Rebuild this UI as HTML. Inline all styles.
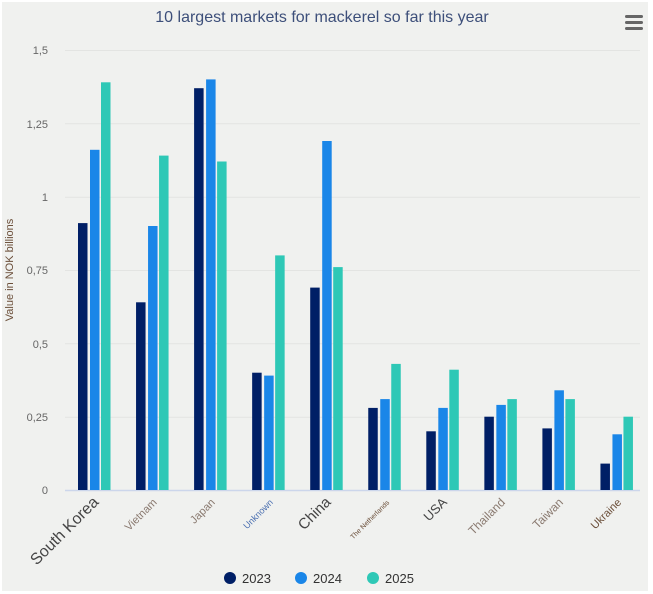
<!DOCTYPE html>
<html><head><meta charset="utf-8"><style>
html,body{margin:0;padding:0;background:#fff;}
svg{display:block;font-family:"Liberation Sans",sans-serif;}
</style></head><body>
<svg width="653" height="594" viewBox="0 0 653 594" xmlns="http://www.w3.org/2000/svg">
<rect x="2" y="2" width="646" height="589" fill="#f0f1ef"/>
<text x="322" y="22" text-anchor="middle" font-size="16" fill="#3d4f7a">10 largest markets for mackerel so far this year</text>
<g fill="#666">
<rect x="625" y="15" width="18" height="3" rx="1.5"/><rect x="625" y="21" width="18" height="3" rx="1.5"/><rect x="625" y="27" width="18" height="3" rx="1.5"/>
</g>
<g stroke="#e3e4e2" stroke-width="1">
<line x1="65" x2="640" y1="50.5" y2="50.5"/>
<line x1="65" x2="640" y1="123.8" y2="123.8"/>
<line x1="65" x2="640" y1="197.2" y2="197.2"/>
<line x1="65" x2="640" y1="270.5" y2="270.5"/>
<line x1="65" x2="640" y1="343.8" y2="343.8"/>
<line x1="65" x2="640" y1="417.2" y2="417.2"/>
</g>
<line x1="65" x2="640" y1="490.5" y2="490.5" stroke="#ccd6eb" stroke-width="1.5"/>
<g font-size="11" fill="#666" text-anchor="end">
<text x="48" y="54">1,5</text><text x="48" y="128">1,25</text><text x="48" y="201">1</text>
<text x="48" y="274">0,75</text><text x="48" y="348">0,5</text><text x="48" y="421">0,25</text><text x="48" y="494">0</text>
</g>
<text transform="translate(13,270) rotate(-90)" text-anchor="middle" font-size="11" fill="#6b4f3a">Value in NOK billions</text>
<g>
<g fill="#001f66">
<rect x="78" y="223.1" width="9.5" height="266.9"/>
<rect x="136.05" y="302.3" width="9.5" height="187.7"/>
<rect x="194.1" y="88.2" width="9.5" height="401.8"/>
<rect x="252.15" y="372.7" width="9.5" height="117.3"/>
<rect x="310.2" y="287.6" width="9.5" height="202.4"/>
<rect x="368.25" y="407.9" width="9.5" height="82.1"/>
<rect x="426.3" y="431.3" width="9.5" height="58.7"/>
<rect x="484.35" y="416.7" width="9.5" height="73.3"/>
<rect x="542.4" y="428.4" width="9.5" height="61.6"/>
<rect x="600.45" y="463.6" width="9.5" height="26.4"/>
</g>
<g fill="#1a86e8">
<rect x="90" y="149.8" width="9.5" height="340.2"/>
<rect x="148.05" y="226" width="9.5" height="264"/>
<rect x="206.1" y="79.4" width="9.5" height="410.6"/>
<rect x="264.15" y="375.6" width="9.5" height="114.4"/>
<rect x="322.2" y="141" width="9.5" height="349"/>
<rect x="380.25" y="399.1" width="9.5" height="90.9"/>
<rect x="438.3" y="407.9" width="9.5" height="82.1"/>
<rect x="496.35" y="404.9" width="9.5" height="85.1"/>
<rect x="554.4" y="390.3" width="9.5" height="99.7"/>
<rect x="612.45" y="434.3" width="9.5" height="55.7"/>
</g>
<g fill="#2ec8b6">
<rect x="101" y="82.3" width="9.5" height="407.7"/>
<rect x="159.05" y="155.6" width="9.5" height="334.4"/>
<rect x="217.1" y="161.5" width="9.5" height="328.5"/>
<rect x="275.15" y="255.4" width="9.5" height="234.6"/>
<rect x="333.2" y="267.1" width="9.5" height="222.9"/>
<rect x="391.25" y="363.9" width="9.5" height="126.1"/>
<rect x="449.3" y="369.7" width="9.5" height="120.3"/>
<rect x="507.35" y="399.1" width="9.5" height="90.9"/>
<rect x="565.4" y="399.1" width="9.5" height="90.9"/>
<rect x="623.45" y="416.7" width="9.5" height="73.3"/>
</g>
</g>
<g text-anchor="end">
<text transform="translate(99.5,503) rotate(-45)" font-size="16" fill="#444">South Korea</text>
<text transform="translate(157.5,503) rotate(-45)" font-size="11" fill="#8a7a70">Vietnam</text>
<text transform="translate(215.6,503) rotate(-45)" font-size="11" fill="#8a7a70">Japan</text>
<text transform="translate(273.6,503) rotate(-45)" font-size="9" fill="#4a6fb0">Unknown</text>
<text transform="translate(331.7,503) rotate(-45)" font-size="15" fill="#444">China</text>
<text transform="translate(389.7,503) rotate(-45)" font-size="7" fill="#6b4f3a">The Netherlands</text>
<text transform="translate(447.8,503) rotate(-45)" font-size="13" fill="#444">USA</text>
<text transform="translate(505.8,503) rotate(-45)" font-size="12" fill="#8a7a70">Thailand</text>
<text transform="translate(563.9,503) rotate(-45)" font-size="12" fill="#8a7a70">Taiwan</text>
<text transform="translate(621.9,503) rotate(-45)" font-size="11" fill="#6b4f3a">Ukraine</text>
</g>
<g font-size="13" fill="#333">
<circle cx="230" cy="578" r="6" fill="#001f66"/><text x="242" y="583">2023</text>
<circle cx="301" cy="578" r="6" fill="#1a86e8"/><text x="313" y="583">2024</text>
<circle cx="373" cy="578" r="6" fill="#2ec8b6"/><text x="385" y="583">2025</text>
</g>
</svg>
</body></html>
